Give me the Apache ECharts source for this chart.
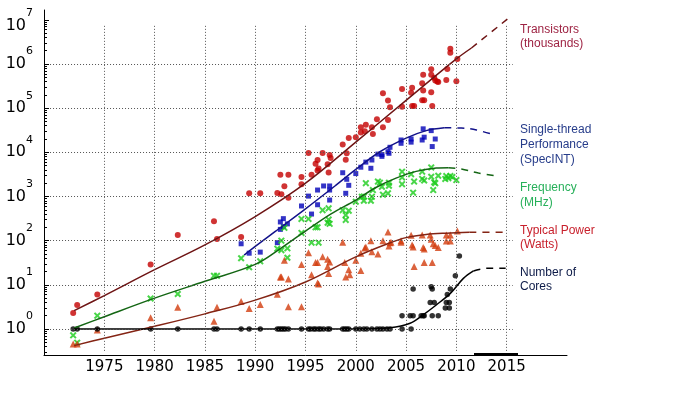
<!DOCTYPE html>
<html>
<head>
<meta charset="utf-8">
<title>Microprocessor trend data</title>
<script src="https://cdn.jsdelivr.net/npm/echarts@6.0.0/dist/echarts.min.js"></script>
<style>
html, body { margin: 0; padding: 0; background: #fff; }
#main { width: 680px; height: 399px; }
</style>
</head>
<body>
<div id="main"></div>
<script>
// ---------------- data: [year, value] ----------------
var transistorPts = [
  [1971.9, 2.3], [1972.3, 3.5], [1974.3, 6], [1979.6, 29], [1982.3, 134], [1985.9, 275], [1986.2, 109],
  [1988.6, 121], [1989.4, 1180], [1990.5, 1180], [1992.2, 1200], [1992.6, 1120], [1992.5, 3100],
  [1993.3, 3100], [1992.9, 1700], [1993.3, 940], [1994.6, 2750], [1994.6, 1900], [1995.3, 9600],
  [1995.6, 3100], [1996.0, 5500], [1996.2, 6700], [1996.3, 4300], [1996.2, 3900], [1996.7, 9600],
  [1997.2, 5400], [1997.4, 8700], [1997.5, 7400], [1997.3, 3500], [1998.7, 15000], [1999.0, 6800],
  [1999.1, 9500], [1999.3, 21000], [2000.0, 22000], [2000.5, 28000], [2000.5, 37000], [2000.9, 30000],
  [2001.0, 42000], [2001.6, 37000], [2001.7, 26000], [2002.1, 56000], [2002.7, 37000], [2003.2, 54000],
  [2002.7, 218000], [2003.2, 148000], [2003.4, 105000], [2004.6, 270000], [2004.6, 107000],
  [2005.5, 224000], [2005.6, 290000], [2005.6, 112000], [2005.8, 112000], [2006.6, 365000],
  [2006.7, 570000], [2006.7, 250000], [2006.6, 150000], [2006.8, 150000], [2007.5, 570000],
  [2007.5, 230000], [2007.6, 112000], [2007.5, 760000], [2007.8, 490000], [2007.9, 420000],
  [2008.1, 400000], [2008.2, 390000], [2009.0, 435000], [2009.1, 770000], [2009.4, 2200000],
  [2009.4, 1800000], [2010.0, 405000], [2010.1, 1300000]
];
var perfPts = [
  [1988.6, 85], [1989.4, 52], [1990.5, 55], [1992.2, 90], [1992.5, 265], [1992.8, 315], [1992.5, 180],
  [1992.8, 208], [1993.2, 240], [1994.6, 610], [1995.6, 400], [1996.2, 650], [1997.4, 830],
  [1995.3, 1020], [1996.2, 1400], [1996.8, 1730], [1997.4, 1730], [1997.4, 1400], [1998.7, 3450],
  [1999.1, 2450], [1999.3, 1790], [1999.0, 1180], [2000.0, 3300], [2000.5, 4600], [2001.0, 6000],
  [2001.5, 4350], [2001.6, 6700], [2002.2, 9100], [2002.6, 8900], [2002.6, 8100], [2003.2, 10300],
  [2003.4, 13000], [2003.3, 9500], [2004.5, 19000], [2004.5, 16000], [2005.5, 20000], [2005.5, 17000],
  [2006.7, 34000], [2006.6, 19000], [2006.8, 22000], [2007.5, 31000], [2007.9, 20000], [2007.6, 13500]
];
var freqPts = [
  [1971.9, 0.72], [1972.3, 0.49], [1974.3, 2.0], [1979.6, 4.9], [1982.3, 6.2], [1985.9, 16], [1986.2, 16],
  [1988.6, 40], [1989.4, 25], [1990.5, 34], [1992.2, 66], [1992.6, 100], [1992.6, 61], [1993.2, 67],
  [1993.2, 41], [1992.9, 195], [1994.6, 310], [1994.6, 150], [1995.3, 310], [1995.6, 90], [1996.3, 90],
  [1996.0, 200], [1996.2, 200], [1996.7, 490], [1997.3, 540], [1997.2, 255], [1997.4, 240], [1997.3, 300],
  [1998.7, 490], [1999.0, 380], [1999.0, 295], [1999.3, 475], [2000.0, 760], [2000.8, 800], [2001.5, 800],
  [2001.0, 2000], [2000.6, 980], [2000.8, 1000], [2001.6, 990], [2001.7, 1400], [2002.2, 2170],
  [2002.4, 2050], [2002.6, 1660], [2003.3, 2050], [2003.2, 1180], [2002.7, 1100], [2003.3, 1750],
  [2004.6, 3650], [2004.6, 2700], [2004.6, 1900], [2005.5, 3200], [2005.7, 1220], [2005.8, 2170],
  [2006.6, 3650], [2006.6, 2500], [2006.8, 2300], [2007.5, 4550], [2007.5, 2800], [2007.7, 1400],
  [2007.8, 2100], [2007.9, 2000], [2008.2, 2950], [2009.0, 2900], [2009.4, 2900], [2009.2, 2600],
  [2009.6, 2750], [2008.9, 2500], [2010.0, 2350]
];
var powerPts = [
  [1971.9, 0.46], [1972.3, 0.46], [1974.3, 0.95], [1979.6, 1.8], [1982.3, 3.1], [1985.9, 1.5], [1986.2, 3.1],
  [1988.6, 4.2], [1989.4, 2.9], [1990.5, 3.6], [1992.2, 6.1], [1992.6, 15], [1992.5, 15], [1993.3, 13.5],
  [1992.9, 36], [1993.3, 3.2], [1994.6, 3.2], [1995.3, 53], [1994.6, 29], [1995.6, 17], [1996.0, 32],
  [1996.2, 32], [1996.2, 11], [1996.3, 10.5], [1996.7, 43], [1997.2, 38], [1997.4, 33], [1997.2, 26],
  [1997.3, 18], [1998.7, 92], [1998.9, 32], [1999.3, 22], [1999.0, 15], [1999.4, 17], [2000.0, 36],
  [2000.5, 52], [2000.5, 21], [2001.0, 72], [2000.9, 68], [2001.5, 100], [2001.6, 56], [2002.2, 50],
  [2002.7, 100], [2003.2, 158], [2003.4, 90], [2003.5, 92], [2003.3, 76], [2004.5, 100], [2004.5, 92],
  [2005.5, 132], [2005.6, 80], [2005.7, 72], [2006.6, 134], [2006.7, 70], [2006.8, 65], [2007.4, 134],
  [2007.5, 107], [2007.7, 85], [2007.9, 78], [2008.2, 70], [2006.8, 32], [2007.6, 32], [2005.8, 26],
  [2009.0, 98], [2009.4, 98], [2009.0, 134], [2009.4, 134], [2010.1, 166]
];
var coresPts = [
  [1971.9, 1], [1972.3, 1], [1974.3, 1], [1979.6, 1], [1982.3, 1], [1985.9, 1], [1986.2, 1], [1988.6, 1],
  [1989.4, 1], [1990.5, 1], [1992.2, 1], [1992.4, 1], [1992.6, 1], [1992.8, 1], [1993.0, 1], [1993.3, 1],
  [1994.6, 1], [1995.3, 1], [1995.5, 1], [1995.8, 1], [1996.0, 1], [1996.3, 1], [1996.5, 1], [1996.8, 1],
  [1997.2, 1], [1997.4, 1], [1998.7, 1], [1998.9, 1], [1999.1, 1], [1999.3, 1], [2000.0, 1], [2000.4, 1],
  [2000.8, 1], [2001.1, 1], [2001.6, 1], [2002.1, 1], [2002.4, 1], [2002.7, 1], [2003.1, 1], [2003.4, 1],
  [2004.6, 1], [2005.5, 1],
  [2004.6, 2], [2005.4, 2], [2005.7, 2], [2005.7, 8], [2006.5, 2], [2006.7, 2], [2006.8, 2], [2007.5, 9],
  [2007.6, 8], [2007.4, 4], [2007.8, 4], [2007.6, 2], [2008.2, 2], [2009.0, 4], [2009.3, 4], [2008.9, 3],
  [2009.3, 3], [2009.1, 6], [2009.4, 8], [2009.9, 16], [2010.3, 45]
];

// trend curves, solid part then dashed projection
var transistorTrend = [[1972, 2.6], [1975, 5.7], [1980, 22], [1985, 80], [1990, 350], [1995, 2000],
  [2000, 17000], [2005, 150000], [2010, 1300000], [2011.5, 2300000]];
var transistorProj = [[2011.5, 2300000], [2015.1, 10500000]];
var perfTrend = [[1988.9, 47], [1990, 74], [1992, 162], [1995, 525], [1998, 1780], [2000, 4100],
  [2002.4, 10300], [2005, 21000], [2007, 31000], [2008.8, 36000]];
var perfProj = [[2008.8, 36000], [2010.5, 35500], [2012, 32000], [2013.8, 24700]];
var freqTrend = [[1972, 1.05], [1975, 1.9], [1980, 5], [1985, 12], [1990, 29], [1992.5, 66], [1995, 165],
  [1997.5, 400], [2000, 830], [2002, 1600], [2004, 2600], [2006, 3700], [2008, 4400], [2009.2, 4500]];
var freqProj = [[2009.2, 4500], [2010.5, 4200], [2012.2, 3400], [2013.9, 2950]];
var powerTrend = [[1972, 0.42], [1975, 0.62], [1980, 1.15], [1985, 2.2], [1990, 4.5], [1995, 11.6],
  [2000, 43], [2003.4, 89], [2005, 117], [2007, 138], [2009, 148], [2011.3, 155]];
var powerProj = [[2011.3, 155], [2014.7, 155]];
var coresTrend = [[1972, 1], [1980, 1], [1990, 1], [2000, 1], [2003.4, 1.07], [2005.4, 1.35],
  [2006.7, 2.1], [2008, 3.5], [2009.4, 6.4], [2010.7, 14], [2011.7, 20.6]];
var coresProj = [[2011.7, 20.6], [2013, 23.6], [2014.9, 23.6]];

// axes
var xTicks = [1975, 1980, 1985, 1990, 1995, 2000, 2005, 2010, 2015];
var yTicks = [1, 10, 100, 1000, 10000, 100000, 1000000, 10000000];
var gridRows = [1, 10, 100, 1000, 10000, 100000, 1000000];
var yMinorTicks = [];
for (var k = -1; k <= 6; k++) {
  for (var m = 2; m <= 9; m++) yMinorTicks.push(m * Math.pow(10, k));
}

// right hand labels
var labelTexts = ['Transistors\n(thousands)', 'Single-thread\nPerformance\n(SpecINT)', 'Frequency\n(MHz)',
  'Typical Power\n(Watts)', 'Number of\nCores'];

// ---------------- layout / style ----------------
var X_MIN = 1969, X_MAX = 2021;
var Y_MIN = 0.2578, Y_MAX = 1.667e7;
var GL_LEFT = 1969.6, GL_RIGHT = 2015.6, GL_BOTTOM = 0.32, GL_TOP = 8.0e6;
var labelColors = ['#9e2343', '#263c8a', '#27b05a', '#c8202c', '#0d1b48'];
var labelTops = [23, 122, 180, 224, 266];
var labelLH = [14, 15, 15, 14, 14];
var crossPath = 'path://M0,2L2,0L5,3L8,0L10,2L7,5L10,8L8,10L5,7L2,10L0,8L3,5Z';

var chart = echarts.init(document.getElementById('main'));

function scatter(name, data, symbol, size, color) {
  return {
    name: name, type: 'scatter', data: data, symbol: symbol, symbolSize: size,
    itemStyle: { color: color }, z: 3, silent: true
  };
}
function trend(data, color, dashed) {
  return {
    type: 'line', data: data, smooth: 0.35, showSymbol: false, symbol: 'none', silent: true, z: 4,
    lineStyle: { color: color, width: 1.5, type: dashed ? [7, 6] : 'solid' }
  };
}

// dotted grid built from the tick arrays
var gridLines = [];
xTicks.forEach(function (x) {
  gridLines.push([{ coord: [x, GL_BOTTOM] }, { coord: [x, GL_TOP] }]);
});
gridRows.forEach(function (y) {
  gridLines.push([{ coord: [GL_LEFT, y] }, { coord: [GL_RIGHT, y] }]);
});

var graphics = labelTexts.map(function (t, i) {
  return {
    type: 'text', left: 520, top: labelTops[i], silent: true,
    style: {
      text: t, fill: labelColors[i], lineHeight: labelLH[i],
      font: '12px "Liberation Sans", Arial, sans-serif'
    }
  };
});
// small thick bit on the x axis under 2015
graphics.push({ type: 'line', silent: true, shape: { x1: 474, y1: 354, x2: 518, y2: 354 }, style: { stroke: '#000', lineWidth: 2 } });

var option = {
  animation: false,
  backgroundColor: '#fff',
  grid: { left: 44, right: 113, top: 10, bottom: 44, containLabel: false },
  xAxis: {
    type: 'value', min: X_MIN, max: X_MAX,
    axisLine: { show: true, lineStyle: { color: '#000', width: 1 } },
    axisTick: { show: false },
    splitLine: { show: false },
    axisLabel: {
      customValues: xTicks, margin: 5, color: '#000',
      fontFamily: 'DejaVu Sans', fontSize: 15,
      formatter: function (v) { return String(v); }
    }
  },
  yAxis: [{
    type: 'log', logBase: 10, min: Y_MIN, max: Y_MAX,
    axisLine: { show: true, lineStyle: { color: '#000', width: 1 } },
    axisTick: { show: true, inside: true, length: 5, customValues: yTicks, lineStyle: { color: '#000' } },
    splitLine: { show: false },
    axisLabel: {
      customValues: yTicks, margin: 11,
      formatter: function (v) {
        var e = Math.round(Math.log(v) / Math.LN10);
        // the top label sits a little lower in the original
        if (e === 7) return '{bt|10}{st|7}';
        return '{b|10}{s|' + e + '}';
      },
      rich: {
        b: { fontFamily: 'DejaVu Sans', fontSize: 16, color: '#000', lineHeight: 36 },
        s: { fontFamily: 'DejaVu Sans', fontSize: 11, color: '#000', lineHeight: 11, verticalAlign: 'top' },
        bt: { fontFamily: 'DejaVu Sans', fontSize: 16, color: '#000', lineHeight: 36, padding: [12, 0, 0, 0] },
        st: { fontFamily: 'DejaVu Sans', fontSize: 11, color: '#000', lineHeight: 11, verticalAlign: 'top', padding: [6, 0, 0, 0] }
      }
    }
  }, {
    type: 'log', logBase: 10, min: Y_MIN, max: Y_MAX, position: 'left',
    axisLine: { show: false },
    axisTick: { show: true, inside: true, length: 3, customValues: yMinorTicks, lineStyle: { color: '#000' } },
    axisLabel: { show: false },
    splitLine: { show: false }
  }],
  graphic: graphics,
  series: [
    {
      type: 'line', data: [], silent: true, z: 1,
      markLine: {
        silent: true, symbol: ['none', 'none'], label: { show: false },
        lineStyle: { color: '#555', type: [1, 2], width: 1 },
        emphasis: { disabled: true },
        data: gridLines
      }
    },
    scatter('Transistors', transistorPts, 'circle', 6, '#c40000'),
    scatter('Single-thread Performance', perfPts, 'rect', 5, '#0000b8'),
    scatter('Frequency', freqPts, crossPath, 7, '#1ccc1c'),
    scatter('Typical Power', powerPts, 'triangle', 7, '#d23c0e'),
    scatter('Number of Cores', coresPts, 'circle', 5.5, '#000'),
    trend(transistorTrend, '#6e1414', false),
    trend(transistorProj, '#6e1414', true),
    trend(perfTrend, '#12128a', false),
    trend(perfProj, '#12128a', true),
    trend(freqTrend, '#146614', false),
    trend(freqProj, '#146614', true),
    trend(powerTrend, '#842414', false),
    trend(powerProj, '#842414', true),
    trend(coresTrend, '#000', false),
    trend(coresProj, '#000', true)
  ]
};
chart.setOption(option);
</script>
</body>
</html>
